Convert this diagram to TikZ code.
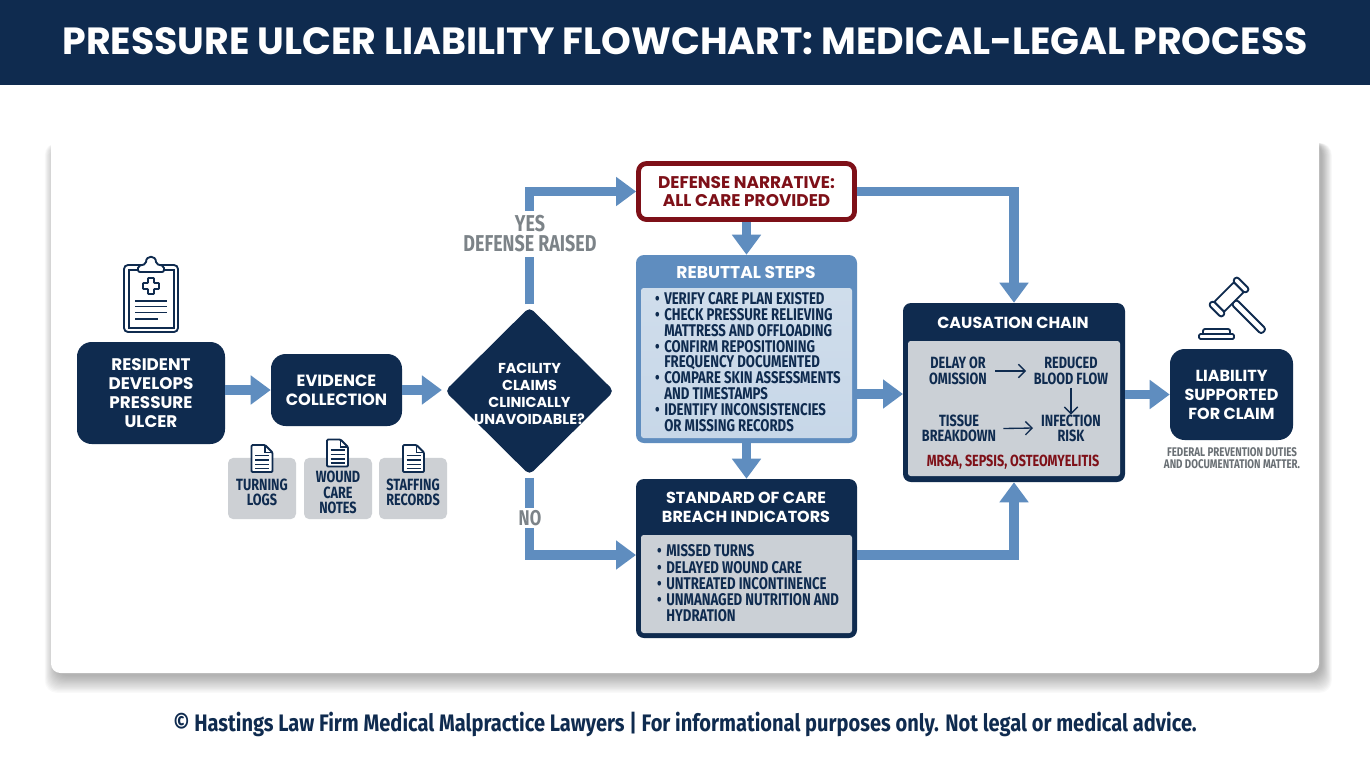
\documentclass[tikz,border=0pt]{standalone}
\usepackage{fontspec}
\setmainfont{Poppins}
\newfontfamily\cond[FakeStretch=0.78]{Fira Sans}
\newfontfamily\condw[FakeStretch=0.84]{Fira Sans}
\usetikzlibrary{arrows.meta,shapes.geometric}
\definecolor{navy}{HTML}{0F2B4F}
\definecolor{flowblue}{HTML}{5F8DBF}
\definecolor{defred}{HTML}{7E1018}
\definecolor{panelgray}{HTML}{CBD0D6}
\definecolor{panelblue}{HTML}{C7D7E8}
\definecolor{tile}{HTML}{CDD0D4}
\definecolor{labelgray}{HTML}{7C8388}
\newcommand{\fz}[2]{\fontsize{#1}{#2}\selectfont}
\tikzset{
  x=0.75pt,y=-0.75pt,
  flow/.style={draw=flowblue,line width=7.2pt,-{Triangle[length=15pt,width=21pt]}},
  navybox/.style={fill=navy,rounded corners=#1,inner sep=0pt,text=white,align=center,font=\bfseries\fz{12.6}{14.2}},
  navybox/.default=9pt,
  panelbox/.style={rounded corners=2pt,inner sep=0pt},
  txt/.style={inner sep=0pt,align=center,text=navy},
  condtxt/.style={txt,font=\cond\bfseries\fz{12.2}{11.7}},
  listtxt/.style={inner sep=0pt,align=left,text=navy,anchor=west,font=\cond\bfseries\fz{12.7}{11.85}},
  headtxt/.style={inner sep=0pt,align=center,text=white,font=\bfseries\fz{12}{14.2}},
  tilebox/.style={fill=tile,rounded corners=4pt,inner sep=0pt,minimum width=51pt,minimum height=46pt},
  icon/.style={draw=navy,line width=1.4pt,line join=round},
  iconthin/.style={draw=navy,line width=1pt},
  tinyarrow/.style={navy,line width=1pt,-{Straight Barb[length=5pt,width=10pt]}},
  pics/docicon/.style={code={
    \draw[icon,fill=white,rounded corners=0.8pt] (-10.5,-13.5) -- (3,-13.5) -- (10.5,-6) -- (10.5,13.5) -- (-10.5,13.5) -- cycle;
    \draw[iconthin] (3,-13.5) -- (3,-6) -- (10.5,-6);
    \foreach \yy in {-3,1.5,6,10}{\draw[iconthin] (-7,\yy) -- (7,\yy);}
  }}
}
\begin{document}
\begin{tikzpicture}
\useasboundingbox (0,0) rectangle (1370,765);
% header
\fill[navy] (0,0) rectangle (1370,85);
\node[inner sep=0pt,text=white,font=\bfseries\fz{28.4}{30}] (title) at (685,41) {PRESSURE ULCER LIABILITY FLOWCHART: MEDICAL-LEGAL PROCESS};
% card and its shadow
\foreach \i in {0,...,14}{
  \fill[black,opacity=0.024,rounded corners=9pt] (56-\i*0.8,143) rectangle (1322+\i*0.7,676+\i*1.2);
}
\fill[white,rounded corners=7pt] (51,135) rectangle (1319,673);
% clipboard
\draw[icon,fill=white,rounded corners=3pt] (124,265) rectangle (178,332);
\draw[iconthin] (129,270) rectangle (174,328);
\draw[icon,fill=white,rounded corners=1.5pt] (138,272) -- (138,266) -- (146,264) .. controls (146,255) and (156,255) .. (156,264) -- (164,266) -- (164,272) -- cycle;
\draw[icon,fill=white,rounded corners=0.5pt] (148,278) -- (154,278) -- (154,283) -- (159,283) -- (159,289) -- (154,289) -- (154,294) -- (148,294) -- (148,289) -- (143,289) -- (143,283) -- (148,283) -- cycle;
\draw[iconthin] (135,301) -- (167,301) (135,306.5) -- (167,306.5) (135,312.5) -- (167,312.5) (135,319) -- (158,319);
% gavel
\begin{scope}[shift={(1229,297)},rotate=-45]
  \draw[icon,fill=white,rounded corners=2pt] (7,-3.5) rectangle (49,3.5);
  \draw[icon,fill=white,rounded corners=1pt] (-7,-14) rectangle (7,14);
  \draw[icon,fill=white,rounded corners=2pt] (-9,-20) rectangle (9,-14);
  \draw[icon,fill=white,rounded corners=2pt] (-9,14) rectangle (9,20);
\end{scope}
\draw[icon,fill=white,rounded corners=1.5pt] (1203,339) -- (1203,329) -- (1230,329) -- (1230,339);
\draw[icon,fill=white,rounded corners=1pt] (1199,339) -- (1199,334) -- (1234,334) -- (1234,339) -- cycle;
% first nodes
\node[navybox=11pt,minimum width=111pt,minimum height=76.5pt] (res) at (151,393) {RESIDENT\\DEVELOPS\\PRESSURE\\ULCER};
\node[navybox=11pt,minimum width=98.25pt,minimum height=54pt,font=\bfseries\fz{12.2}{14.2}] (ev) at (336.5,390) {EVIDENCE\\COLLECTION};
% tiles
\node[tilebox] (t1) at (262,488.5) {};
\node[tilebox] (t2) at (338,488.5) {};
\node[tilebox] (t3) at (413,488.5) {};
\pic at (262,458.5) {docicon};
\pic at (337.5,453) {docicon};
\pic at (413.5,458.5) {docicon};
\node[condtxt] (t1t) at (262,492.5) {TURNING\\LOGS};
\node[condtxt] (t2t) at (338,492.5) {WOUND\\CARE\\NOTES};
\node[condtxt] (t3t) at (413,492.5) {STAFFING\\RECORDS};
% diamond
\node[shape=diamond,fill=navy,rounded corners=4pt,inner sep=0pt,minimum width=127pt,minimum height=126pt] (dia) at (529.5,391) {};
\node[inner sep=0pt,align=center,text=white,font=\bfseries\fz{10.8}{12.9}] (diat) at (529.5,394) {FACILITY\\CLAIMS\\CLINICALLY\\UNAVOIDABLE?};
% defense
\node[draw=defred,line width=3.6pt,fill=white,rounded corners=6pt,inner sep=0pt,minimum width=162pt,minimum height=42pt,align=center,text=defred,font=\bfseries\fz{12.7}{13.6}] (def) at (746.5,191.5) {DEFENSE NARRATIVE:\\ALL CARE PROVIDED};
% rebuttal
\node[fill=flowblue,rounded corners=6pt,inner sep=0pt,minimum width=165.75pt,minimum height=141pt] (reb) at (746.5,349) {};
\node[panelbox,top color=panelblue!85!white,bottom color=panelblue,minimum width=158.25pt,minimum height=112.5pt] (rebp) at (746.5,363) {};
\node[headtxt,font=\bfseries\fz{12.8}{14.2}] (rebt) at (746,272) {REBUTTAL STEPS};
\node[listtxt] (rebl) at (664,362) {\llap{\textbullet\hspace{3.5pt}}VERIFY CARE PLAN EXISTED\\
\llap{\textbullet\hspace{3.5pt}}CHECK PRESSURE RELIEVING\\
MATTRESS AND OFFLOADING\\
\llap{\textbullet\hspace{3.5pt}}CONFIRM REPOSITIONING\\
FREQUENCY DOCUMENTED\\
\llap{\textbullet\hspace{3.5pt}}COMPARE SKIN ASSESSMENTS\\
AND TIMESTAMPS\\
\llap{\textbullet\hspace{3.5pt}}IDENTIFY INCONSISTENCIES\\
OR MISSING RECORDS};
% standard
\node[fill=navy,rounded corners=6pt,inner sep=0pt,minimum width=165.75pt,minimum height=119.25pt] (std) at (746.5,558.5) {};
\node[panelbox,fill=panelgray,minimum width=158.25pt,minimum height=73.5pt] (stdp) at (746.5,584) {};
\node[headtxt] (stdt) at (746,507.5) {STANDARD OF CARE\\BREACH INDICATORS};
\node[listtxt,font=\cond\bfseries\fz{12.7}{12.2}] (stdl) at (666,583.5) {\llap{\textbullet\hspace{3.5pt}}MISSED TURNS\\
\llap{\textbullet\hspace{3.5pt}}DELAYED WOUND CARE\\
\llap{\textbullet\hspace{3.5pt}}UNTREATED INCONTINENCE\\
\llap{\textbullet\hspace{3.5pt}}UNMANAGED NUTRITION AND\\
HYDRATION};
% causation
\node[fill=navy,rounded corners=6pt,inner sep=0pt,minimum width=166.5pt,minimum height=134.25pt] (cau) at (1014,392.5) {};
\node[panelbox,fill=panelgray,minimum width=159pt,minimum height=101.25pt] (caup) at (1014,408.5) {};
\node[headtxt] (caut) at (1013,323) {CAUSATION CHAIN};
\node[condtxt] (c1) at (958,371) {DELAY OR\\OMISSION};
\node[condtxt] (c2) at (1071,371) {REDUCED\\BLOOD FLOW};
\node[condtxt] (c3) at (1071,428.5) {INFECTION\\RISK};
\node[condtxt] (c4) at (959,428.5) {TISSUE\\BREAKDOWN};
\node[inner sep=0pt,text=defred,font=\cond\bfseries\fz{12.1}{12}] (c5) at (1013,462) {MRSA, SEPSIS, OSTEOMYELITIS};
\draw[tinyarrow] (c1.east) ++(8,0) -- (1026,371);
\draw[tinyarrow] (c2.south) ++(0,3) -- (c3.north);
\draw[tinyarrow] (c4.east) ++(7,0) -- (1033,428);
% liability
\node[navybox=11pt,minimum width=92.25pt,minimum height=68.25pt,font=\bfseries\fz{12}{14.2}] (lia) at (1231.5,394.5) {LIABILITY\\SUPPORTED\\FOR CLAIM};
\node[inner sep=0pt,align=center,text=labelgray!85!black,font=\cond\bfseries\fz{9.4}{9.2}] (note) at (1232,458.5) {FEDERAL PREVENTION DUTIES\\AND DOCUMENTATION MATTER.};
% connector targets
\coordinate (stdin) at (636,555);
\coordinate (stdout) at (857,555);
\coordinate (rebout) at (857,394);
\coordinate (cauin) at (903,394);
% connectors
\draw[flow] (res.east |- ev.west) -- (ev.west);
\draw[flow,shorten >=2pt] (ev.east) -- (ev.east -| dia.west);
\draw[flow,shorten <=2pt] (dia.north) |- (def.west);
\draw[flow,shorten <=2pt] (dia.south) |- (stdin);
\draw[flow] (def.south) -- (reb.north);
\draw[flow] (reb.south) -- (std.north);
\draw[flow] (rebout) -- (cauin);
\draw[flow] (def.east) -| (cau.north);
\draw[flow] (stdout) -| (cau.south);
\draw[flow] (cau.east |- lia.west) -- (lia.west);
% branch labels
\node[fill=white,inner sep=0pt,minimum height=34.5pt,align=center,text=labelgray,font=\cond\bfseries\fz{17.2}{15}] (yes) at (530,234) {YES\\DEFENSE RAISED};
\node[fill=white,inner sep=2pt,text=labelgray,font=\cond\bfseries\fz{16}{15}] (no) at (530,518) {NO};
% footer
\node[inner sep=0pt,text=navy,font=\condw\bfseries\fz{17.9}{18}] (foot) at (685,724) {© Hastings Law Firm Medical Malpractice Lawyers | For informational purposes only. Not legal or medical advice.};
\end{tikzpicture}
\end{document}
